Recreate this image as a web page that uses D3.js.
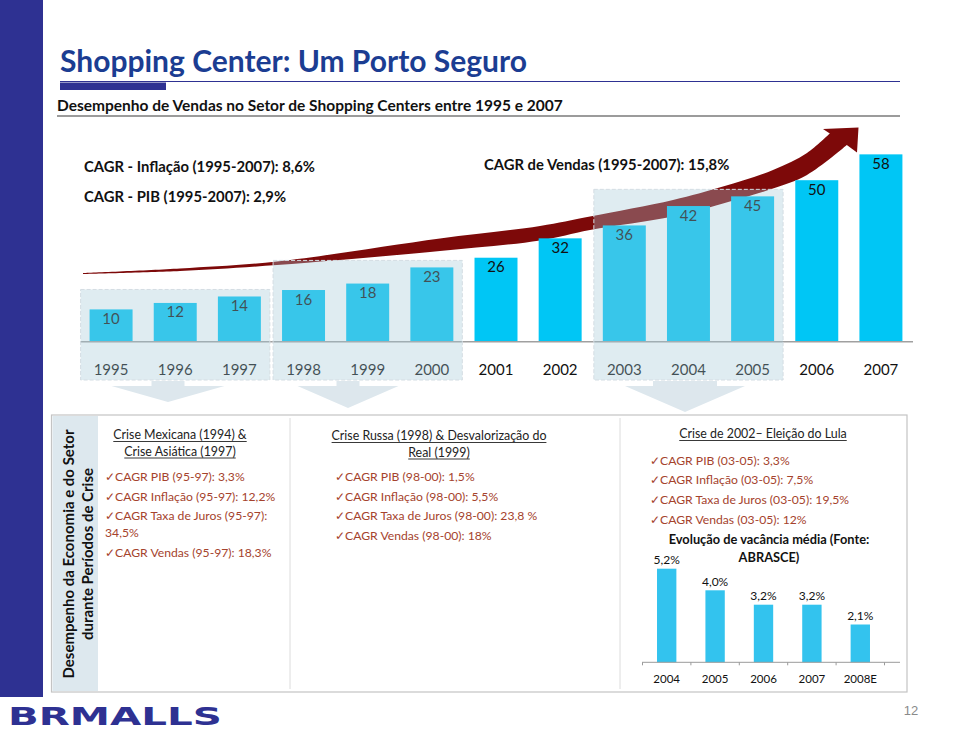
<!DOCTYPE html>
<html><head><meta charset="utf-8">
<script src="https://cdn.jsdelivr.net/npm/d3@7"></script>
<style>
body{margin:0;background:#fff;}
svg{display:block;font-family:Lato,'Open Sans',sans-serif;}
</style>
</head><body>
<svg id="c" width="960" height="731"></svg>
<script>
// ---------- DATA ----------
const years = ["1995","1996","1997","1998","1999","2000","2001","2002","2003","2004","2005","2006","2007"];
const sales = [10,12,14,16,18,23,26,32,36,42,45,50,58];
const cagrNotes = ["CAGR - Inflação (1995-2007): 8,6%","CAGR - PIB (1995-2007): 2,9%"];
const cagrSales = "CAGR de Vendas (1995-2007): 15,8%";
const crisisZones = [["1995","1997"],["1998","2000"],["2003","2005"]];
const crisisTitles = [
  ["Crise Mexicana (1994) &","Crise Asiática (1997)"],
  ["Crise Russa (1998) & Desvalorização do","Real (1999)"],
  ["Crise de 2002– Eleição do Lula"]
];
const crisisBullets = [
  [["CAGR PIB (95-97): 3,3%"],["CAGR Inflação (95-97): 12,2%"],["CAGR Taxa de Juros (95-97):","34,5%"],["CAGR Vendas (95-97): 18,3%"]],
  [["CAGR PIB (98-00): 1,5%"],["CAGR Inflação (98-00): 5,5%"],["CAGR Taxa de Juros (98-00): 23,8 %"],["CAGR Vendas (98-00): 18%"]],
  [["CAGR PIB (03-05): 3,3%"],["CAGR Inflação (03-05): 7,5%"],["CAGR Taxa de Juros (03-05): 19,5%"],["CAGR Vendas (03-05): 12%"]]
];
const sideTitle = ["Desempenho da Economia e do Setor","durante Períodos de Crise"];
const vacTitle = ["Evolução de vacância média (Fonte:","ABRASCE)"];
const vacYears = ["2004","2005","2006","2007","2008E"];
const vacValues = [5.2,4.0,3.2,3.2,2.1];

// ---------- STYLE / LAYOUT ----------
const NAVY = "#2e3192", TITLE = "#1b3d92", BAR = "#00c6f5", RED = "#7d0909", BUL = "#a5432d";
const svg = d3.select("#c");

// left band
svg.append("rect").attr("x",0).attr("y",0).attr("width",43).attr("height",697).attr("fill",NAVY);

// title
svg.append("text").attr("x",60).attr("y",72).attr("font-size",30).attr("font-weight",700)
  .attr("fill",TITLE).text("Shopping Center: Um Porto Seguro");
svg.append("line").attr("x1",60).attr("x2",900).attr("y1",81.5).attr("y2",81.5).attr("stroke",NAVY).attr("stroke-width",1);
svg.append("rect").attr("x",60).attr("y",82.5).attr("width",106).attr("height",7.5).attr("fill",NAVY);
svg.append("text").attr("x",57).attr("y",110.5).attr("font-size",15.5).attr("font-weight",700)
  .attr("fill","#111").text("Desempenho de Vendas no Setor de Shopping Centers entre 1995 e 2007");
svg.append("line").attr("x1",57).attr("x2",900).attr("y1",116).attr("y2",116).attr("stroke","#7a7a7a").attr("stroke-width",1.6);

// ---------- main bar chart ----------
const base = 341.7;
const x = d3.scaleBand().domain(years).range([79,913]).paddingInner(0.33).paddingOuter(0.165);
const y = d3.scaleLinear().domain([0,60]).range([base, base-60*3.23]);
const g = svg.append("g");

// red growth arrow (decorative)
const upper = [[83,273],[180,268.5],[277,261.5],[440,238.5],[540,226],[590,216.5],[673,200],[723,186.5],[773,170],[807,153],[829.8,133.6]];
const lower = [[846.8,145.1],[807,175],[773,188.5],[723,203.5],[673,216.5],[590,230],[540,240.5],[440,251],[277,265],[180,271],[83,274]];
const ln = d3.line().curve(d3.curveCatmullRom);
const arrowPath = ln(upper) + "L823,129L858.5,127.5L857,152.5L846.8,145.1" + ln(lower).replace(/^M/,"L") + "Z";
g.append("path").attr("d",arrowPath).attr("fill",RED);

g.selectAll("rect.bar").data(sales).join("rect").attr("class","bar")
  .attr("x",(d,i)=>x(years[i])).attr("width",x.bandwidth())
  .attr("y",d=>y(d)).attr("height",d=>base-y(d)).attr("fill",BAR);
g.selectAll("text.val").data(sales).join("text").attr("class","val")
  .attr("x",(d,i)=>x(years[i])+x.bandwidth()/2).attr("y",d=>y(d)+14.5)
  .attr("text-anchor","middle").attr("font-size",15).attr("fill","#111").text(d=>d);
g.append("line").attr("x1",80).attr("x2",913).attr("y1",base).attr("y2",base).attr("stroke","#a0a0a0").attr("stroke-width",1.5);
g.selectAll("text.yr").data(years).join("text").attr("class","yr")
  .attr("x",d=>x(d)+x.bandwidth()/2).attr("y",374.5).attr("text-anchor","middle")
  .attr("font-size",15).attr("fill","#111").text(d=>d);

// CAGR notes
cagrNotes.forEach((t,i)=>svg.append("text").attr("x",84).attr("y",172+i*29.5).attr("font-size",14.8)
  .attr("font-weight",700).attr("fill","#111").text(t));
svg.append("text").attr("x",484).attr("y",169.5).attr("font-size",14.8).attr("font-weight",700).attr("fill","#111").text(cagrSales);

// crisis zones overlay
const st = x.step();
crisisZones.forEach(([a,b])=>{
  const i0 = years.indexOf(a), i1 = years.indexOf(b);
  const mx = d3.max(sales.slice(i0,i1+1));
  const x0 = x(a) - 0.14*st, x1 = x(b) + x.bandwidth() + 0.14*st;
  const top = y(mx) - 7;
  svg.append("rect").attr("x",x0).attr("y",top).attr("width",x1-x0).attr("height",380-top)
    .attr("fill","rgb(162,200,213)").attr("fill-opacity",0.345)
    .attr("stroke","#d4dde3").attr("stroke-dasharray","4 2").attr("stroke-width",1);
});
// zone pointer arrows (decorative)
const pointers = [[168,16.5,56.5,402],[348,11.5,50.5,408],[685,32,60,412]];
pointers.forEach(([cx,sh,hh,tip])=>{
  svg.append("path").attr("fill","#dde7ed")
    .attr("d",`M${cx-sh},381L${cx+sh},381L${cx+sh},386L${cx+hh},386L${cx},${tip}L${cx-hh},386L${cx-sh},386Z`);
});

// ---------- lower box ----------
svg.append("rect").attr("x",51.5).attr("y",415).attr("width",855.5).attr("height",277)
  .attr("fill","#fff").attr("stroke","#c4c4c4").attr("stroke-width",1.2);
svg.append("rect").attr("x",52.5).attr("y",416).attr("width",45.5).attr("height",275).attr("fill","#dde8ee");
[290,620].forEach(xx=>svg.append("line").attr("x1",xx).attr("x2",xx).attr("y1",418).attr("y2",689).attr("stroke","#dcdcdc"));

// side vertical title
sideTitle.forEach((t,i)=>svg.append("text").attr("transform",`translate(${73.5+i*19},554) rotate(-90)`)
  .attr("text-anchor","middle").attr("font-size",15).attr("font-weight",700).attr("fill","#111").text(t));

// panels
const panelTitlePos = [[180,439],[439,440],[763,438]];
const panelBulletPos = [[105,481],[335,481],[650,464.5]];
crisisTitles.forEach((lines,p)=>{
  lines.forEach((t,k)=>{
    const tx = svg.append("text").attr("x",panelTitlePos[p][0]).attr("y",panelTitlePos[p][1]+k*16.5)
      .attr("text-anchor","middle").attr("font-size",12.4).attr("fill","#222").text(t);
    const w = tx.node().getComputedTextLength();
    svg.append("line").attr("x1",panelTitlePos[p][0]-w/2).attr("x2",panelTitlePos[p][0]+w/2)
      .attr("y1",panelTitlePos[p][1]+k*16.5+2.5).attr("y2",panelTitlePos[p][1]+k*16.5+2.5)
      .attr("stroke","#222").attr("stroke-width",0.9);
  });
});
crisisBullets.forEach((bul,p)=>{
  let yy = panelBulletPos[p][1];
  bul.forEach(lines=>{
    lines.forEach((t,k)=>{
      svg.append("text").attr("x",panelBulletPos[p][0]).attr("y",yy).attr("font-size",12.2).attr("fill",BUL)
        .text((k===0?"✓":"")+t);
      yy += (k<lines.length-1)?16.5:0;
    });
    yy += 19.7;
  });
});

// vacancy chart
const vb = 662.3;
const xv = d3.scaleBand().domain(vacYears).range([642.5,884.5]).paddingInner(0.6).paddingOuter(0.3);
const yv = d3.scaleLinear().domain([0,6]).range([vb, vb-108]);
vacTitle.forEach((t,i)=>svg.append("text").attr("x",769).attr("y",544+i*18).attr("text-anchor","middle")
  .attr("font-size",12.8).attr("font-weight",700).attr("fill","#111").text(t));
svg.selectAll("rect.vb").data(vacValues).join("rect").attr("class","vb")
  .attr("x",(d,i)=>xv(vacYears[i])).attr("width",xv.bandwidth())
  .attr("y",d=>yv(d)).attr("height",d=>vb-yv(d)).attr("fill","#33c3ee");
svg.selectAll("text.vv").data(vacValues).join("text").attr("class","vv")
  .attr("x",(d,i)=>xv(vacYears[i])+xv.bandwidth()/2).attr("y",d=>yv(d)-4.5)
  .attr("text-anchor","middle").attr("font-size",12).attr("fill","#111")
  .text(d=>d.toFixed(1).replace(".",",")+"%");
svg.append("line").attr("x1",642).attr("x2",900).attr("y1",vb).attr("y2",vb).attr("stroke","#9a9a9a");
d3.range(vacYears.length+1).forEach(i=>{
  const tx = 642.5 + i*xv.step();
  svg.append("line").attr("x1",tx).attr("x2",tx).attr("y1",vb).attr("y2",vb+3).attr("stroke","#9a9a9a");
});
svg.selectAll("text.vy").data(vacYears).join("text").attr("class","vy")
  .attr("x",d=>xv(d)+xv.bandwidth()/2).attr("y",683).attr("text-anchor","middle")
  .attr("font-size",11.5).attr("fill","#111").text(d=>d);

// footer logo: natural-width text, widened with a horizontal scale
const logoG = svg.append("g");
const logo = logoG.append("text").attr("x",0).attr("y",0).attr("font-family","'DejaVu Sans',sans-serif")
  .attr("font-weight",700).attr("font-size",25).attr("fill",NAVY).text("BRMALLS");
const lw = logo.node().getComputedTextLength();
logoG.attr("transform",`translate(8,724.5) scale(${214/lw},1)`);
svg.append("text").attr("x",911).attr("y",715).attr("text-anchor","middle").attr("font-family","'Liberation Sans Narrow','Liberation Sans',sans-serif")
  .attr("font-size",13).attr("fill","#8a8a8a").text("12");
</script>
</body></html>
